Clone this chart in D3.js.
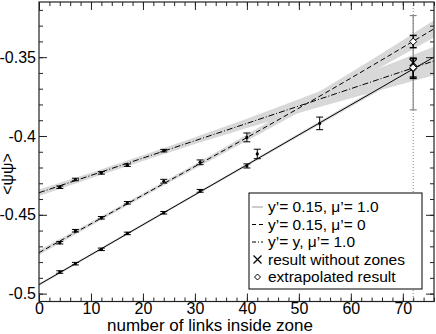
<!DOCTYPE html>
<html>
<head>
<meta charset="utf-8">
<script src="https://cdn.jsdelivr.net/npm/d3@7"></script>
<style>
  body { margin: 0; background: #fff; }
  svg { display: block; }
  svg text { font-family: "Liberation Sans", Arial, sans-serif; }
</style>
</head>
<body>
<svg width="436" height="334"></svg>
<script>
let width = 436,
    height = 334;

// measured points: x = links inside zone, value, error
let solidX = [4, 7, 12, 17, 24, 31, 40, 42, 54],
    solidY = [-0.4863, -0.4810, -0.4719, -0.4618, -0.4487, -0.4348, -0.4190, -0.4114, -0.3920],
    solidErr = [0.0008, 0.0008, 0.0008, 0.0008, 0.0008, 0.0009, 0.0013, 0.003, 0.004];

let dashX = [4, 7, 12, 17, 24, 31, 40],
    dashY = [-0.4677, -0.4601, -0.4519, -0.4424, -0.4287, -0.4167, -0.4009],
    dashErr = [0.0008, 0.0008, 0.0008, 0.0008, 0.0012, 0.0015, 0.0028];

let dotX = [4, 7, 12, 17, 24],
    dotY = [-0.4325, -0.4276, -0.4234, -0.4185, -0.4093],
    dotErr = [0.0008, 0.0008, 0.0008, 0.0008, 0.0008];

// fitted curves and their bands, read at these x values
let fitX = [0, 20, 40, 60, 76];
let solidFit = [-0.4943, -0.4563, -0.4183, -0.3803, -0.3499],
    solidBand = [0.0008, 0.0008, 0.0009, 0.0012, 0.0015];
let dashFit = [-0.474, -0.4375, -0.401, -0.3633, -0.332],
    dashBand = [0.0015, 0.0012, 0.002, 0.0035, 0.0055];
let dotFit = [-0.436, -0.414, -0.392, -0.370, -0.3524],
    dotBand = [0.002, 0.0018, 0.003, 0.006, 0.009];

// results at 72 links
let zoneX = 72;
let noZoneY = -0.3535, noZoneErr = 0.0299;
let extraY = [-0.3401, -0.3572, -0.3566],
    extraErr = [0.0039, 0.0063, 0.006];

let xTicks = [0, 10, 20, 30, 40, 50, 60, 70],
    yTicks = [-0.5, -0.45, -0.4, -0.35];

let legendLabels = ["y\u2019= 0.15, \u03bc\u2019= 1.0", "y\u2019= 0.15, \u03bc\u2019= 0", "y\u2019= y,  \u03bc\u2019= 1.0", "result without zones", "extrapolated result"];

let padL = 39, padR = 434, padT = 2, padB = 301.5;

let x = d3.scaleLinear().domain([0, 76]).range([padL, padR]);
let y = d3.scaleLinear().domain([-0.505, -0.315]).range([padB, padT]);

let svg = d3.select("svg");

let plot = svg.append("g");

// bands
let bands = [[solidFit, solidBand], [dashFit, dashBand], [dotFit, dotBand]];
bands.forEach(b => {
    let area = d3.area()
        .x((d, i) => x(fitX[i]))
        .y0((d, i) => y(d - b[1][i]))
        .y1((d, i) => y(d + b[1][i]))
        .curve(d3.curveMonotoneX);
    plot.append("path")
        .attr("d", area(b[0]))
        .attr("fill", "#d8d8d8");
});

// dotted line at 72
plot.append("line")
    .attr("x1", x(zoneX)).attr("x2", x(zoneX))
    .attr("y1", padT).attr("y2", padB)
    .attr("stroke", "#888")
    .attr("stroke-dasharray", "1,2");

// fit lines
let fitLine = d3.line()
    .x((d, i) => x(fitX[i]))
    .y(d => y(d))
    .curve(d3.curveMonotoneX);

let styles = [null, "5,3", "6,2,1,2"];
[solidFit, dashFit, dotFit].forEach((f, k) => {
    plot.append("path")
        .attr("d", fitLine(f))
        .attr("fill", "none")
        .attr("stroke", "#000")
        .attr("stroke-width", 1)
        .attr("stroke-dasharray", styles[k]);
});

// error bars
let errorBar = (g, xv, yv, e, color, w) => {
    let cx = x(xv), cap = 3.5;
    g.append("line").attr("x1", cx).attr("x2", cx)
        .attr("y1", y(yv - e)).attr("y2", y(yv + e))
        .attr("stroke", color).attr("stroke-width", w);
    [yv - e, yv + e].forEach(v => {
        g.append("line").attr("x1", cx - cap).attr("x2", cx + cap)
            .attr("y1", y(v)).attr("y2", y(v))
            .attr("stroke", color).attr("stroke-width", w);
    });
};

[[solidX, solidY, solidErr], [dashX, dashY, dashErr], [dotX, dotY, dotErr]].forEach(s => {
    s[0].forEach((xv, i) => {
        errorBar(plot, xv, s[1][i], s[2][i], "#000", 1);
        plot.append("circle")
            .attr("cx", x(xv)).attr("cy", y(s[1][i]))
            .attr("r", 1.6).attr("fill", "#000");
    });
});

// result without zones
errorBar(plot, zoneX, noZoneY, noZoneErr, "#888", 1.2);
let cross = (g, cx, cy, s) => {
    g.append("path")
        .attr("d", `M${cx - s},${cy - s}L${cx + s},${cy + s}M${cx - s},${cy + s}L${cx + s},${cy - s}`)
        .attr("stroke", "#000").attr("stroke-width", 1.2).attr("fill", "none");
};
cross(plot, x(zoneX), y(noZoneY), 3.5);

// extrapolated results
let diamond = (g, cx, cy, s) => {
    g.append("path")
        .attr("d", `M${cx},${cy - s}L${cx + s},${cy}L${cx},${cy + s}L${cx - s},${cy}Z`)
        .attr("stroke", "#000").attr("stroke-width", 1).attr("fill", "#fff");
};
extraY.forEach((v, i) => {
    errorBar(plot, zoneX, v, extraErr[i], "#000", 1.4);
});
extraY.forEach(v => diamond(plot, x(zoneX), y(v), 3.5));

// axes, ticks inside on all four sides
let xMinor = d3.range(0, 77, 2),
    yMinor = d3.range(-0.50, -0.315, 0.01);

let axisG = svg.append("g");
let styleAxis = g => {
    g.attr("font-family", null).attr("font-size", null);
    g.select(".domain").remove();
    g.selectAll("line").attr("stroke", "#222");
};

axisG.append("g").attr("transform", `translate(0,${padB})`)
    .call(d3.axisBottom(x).tickValues(xMinor).tickSize(-4).tickFormat(""))
    .call(styleAxis);
axisG.append("g").attr("transform", `translate(0,${padB})`)
    .call(d3.axisBottom(x).tickValues(xTicks).tickSize(-8).tickPadding(1).tickFormat(d3.format("d")))
    .call(styleAxis);
axisG.append("g").attr("transform", `translate(0,${padT})`)
    .call(d3.axisTop(x).tickValues(xMinor).tickSize(-4).tickFormat(""))
    .call(styleAxis);
axisG.append("g").attr("transform", `translate(0,${padT})`)
    .call(d3.axisTop(x).tickValues(xTicks).tickSize(-8).tickFormat(""))
    .call(styleAxis);

axisG.append("g").attr("transform", `translate(${padL},0)`)
    .call(d3.axisLeft(y).tickValues(yMinor).tickSize(-4).tickFormat(""))
    .call(styleAxis);
axisG.append("g").attr("transform", `translate(${padL},0)`)
    .call(d3.axisLeft(y).tickValues(yTicks).tickSize(-8).tickPadding(3).tickFormat(d => String(d)))
    .call(styleAxis);
axisG.append("g").attr("transform", `translate(${padR},0)`)
    .call(d3.axisRight(y).tickValues(yMinor).tickSize(-4).tickFormat(""))
    .call(styleAxis);
axisG.append("g").attr("transform", `translate(${padR},0)`)
    .call(d3.axisRight(y).tickValues(yTicks).tickSize(-8).tickFormat(""))
    .call(styleAxis);

axisG.selectAll("text")
    .style("font-size", "16px")
    .attr("fill", "#000");

svg.append("rect")
    .attr("x", padL).attr("y", padT)
    .attr("width", padR - padL).attr("height", padB - padT)
    .attr("fill", "none").attr("stroke", "#222").attr("stroke-width", 1.2);

// titles
svg.append("text")
    .attr("x", 210).attr("y", 331)
    .attr("text-anchor", "middle")
    .style("font-size", "17px")
    .text("number of links inside zone");

let yTitle = svg.append("text")
    .attr("transform", "translate(13,174) rotate(-90)")
    .attr("text-anchor", "middle")
    .style("font-size", "16px");
yTitle.append("tspan").text("<");
yTitle.append("tspan").style("text-decoration", "overline").text("\u03c8");
yTitle.append("tspan").text("\u03c8>");

// legend
let legend = svg.append("g");
legend.append("rect")
    .attr("x", 249).attr("y", 193)
    .attr("width", 173).attr("height", 96)
    .attr("fill", "#fff").attr("stroke", "#000").attr("stroke-width", 1);

let rowY = d3.scalePoint().domain(d3.range(5)).range([207, 277]);
legendLabels.forEach((t, i) => {
    let ry = rowY(i);
    if (i < 3) {
        legend.append("line")
            .attr("x1", 252).attr("x2", 263)
            .attr("y1", ry).attr("y2", ry)
            .attr("stroke", i === 0 ? "#999" : "#000")
            .attr("stroke-dasharray", styles[i] ? (i === 1 ? "4,3" : "4,2,1,2") : null);
    } else if (i === 3) {
        cross(legend, 257.5, ry, 4);
    } else {
        diamond(legend, 257.5, ry, 3);
    }
    legend.append("text")
        .attr("x", 268).attr("y", ry)
        .attr("dy", "0.35em")
        .style("font-size", "15.5px")
        .text(t);
});
</script>
</body>
</html>
